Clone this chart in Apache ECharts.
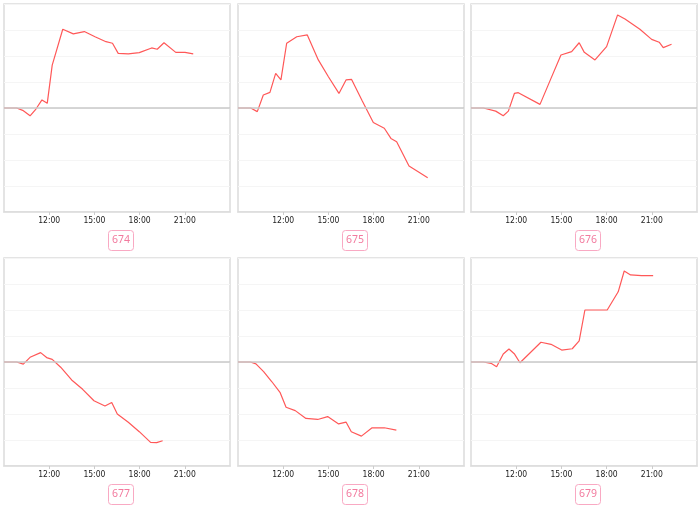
<!DOCTYPE html>
<html>
<head>
<meta charset="utf-8">
<script src="https://cdn.jsdelivr.net/npm/echarts@6/dist/echarts.min.js"></script>
<style>
html,body{margin:0;padding:0;background:#fff;}
#chart{width:700px;height:509px;}
</style>
</head>
<body>
<div id="chart"></div>
<script>
// Panel names
const names = ['674', '675', '676', '677', '678', '679'];

// Times (hours of day) and values for each panel
const t674 = [9, 9.84, 10.24, 10.73, 11.12, 11.52, 11.87, 12.2, 12.9, 13.6, 14.33, 15.04, 15.77, 16.2, 16.58, 17.25, 17.98, 18.8, 19.17, 19.62, 20.4, 21.01, 21.56];
const v674 = [0, 0, -0.09, -0.3, -0.04, 0.31, 0.18, 1.65, 3.03, 2.85, 2.94, 2.74, 2.55, 2.49, 2.1, 2.08, 2.13, 2.31, 2.26, 2.51, 2.14, 2.14, 2.08];

const t675 = [9, 9.84, 10.28, 10.68, 11.12, 11.5, 11.85, 12.23, 12.9, 13.6, 14.33, 15.0, 15.7, 16.17, 16.54, 17.25, 17.98, 18.71, 19.15, 19.53, 20.35, 20.96, 21.59];
const v675 = [0, 0, -0.14, 0.5, 0.6, 1.33, 1.08, 2.49, 2.74, 2.81, 1.85, 1.2, 0.56, 1.08, 1.1, 0.27, -0.56, -0.78, -1.17, -1.3, -2.23, -2.45, -2.68];

const t676 = [9, 9.82, 10.64, 11.14, 11.48, 11.88, 12.14, 13.58, 14.31, 14.97, 15.68, 16.18, 16.52, 17.23, 18.0, 18.73, 19.22, 20.21, 20.99, 21.49, 21.76, 22.31];
const v676 = [0, 0, -0.12, -0.3, -0.12, 0.56, 0.59, 0.14, 1.14, 2.04, 2.17, 2.51, 2.14, 1.85, 2.36, 3.58, 3.42, 3.03, 2.64, 2.53, 2.32, 2.45];

const t677 = [9, 9.84, 10.28, 10.73, 11.43, 11.83, 12.2, 12.76, 13.49, 14.22, 14.97, 15.7, 16.15, 16.52, 17.25, 17.98, 18.73, 19.13, 19.53];
const v677 = [0, 0, -0.08, 0.18, 0.36, 0.17, 0.1, -0.2, -0.69, -1.05, -1.49, -1.69, -1.56, -2.0, -2.32, -2.68, -3.09, -3.1, -3.03];

const t678 = [9, 9.82, 10.19, 10.7, 11.25, 11.8, 12.19, 12.8, 13.51, 14.29, 14.95, 15.68, 16.17, 16.52, 17.19, 17.9, 18.71, 19.51];
const v678 = [0, 0, -0.07, -0.37, -0.76, -1.18, -1.74, -1.87, -2.17, -2.21, -2.1, -2.38, -2.31, -2.68, -2.85, -2.53, -2.53, -2.62];

const t679 = [9, 9.82, 10.33, 10.7, 11.14, 11.52, 11.87, 12.25, 13.64, 14.31, 15.02, 15.72, 16.18, 16.56, 17.29, 18.04, 18.77, 19.17, 19.59, 20.32, 21.09];
const v679 = [0, 0, -0.05, -0.18, 0.31, 0.5, 0.32, -0.03, 0.76, 0.68, 0.46, 0.51, 0.81, 2.0, 2.0, 2.0, 2.7, 3.5, 3.35, 3.32, 3.32];

const times = [t674, t675, t676, t677, t678, t679];
const values = [v674, v675, v676, v677, v678, v679];

// X-axis range (hours) and Y range
const xMin = 9, xMax = 24, xStep = 3;
const yMin = -4, yMax = 4, yStep = 1;

const lefts = [4, 238, 471];
const tops = [4, 258];
const W = 226, H = 208;

const grids = [], xAxes = [], yAxes = [], series = [], titles = [];
for (let i = 0; i < 6; i++) {
  const col = i % 3, row = Math.floor(i / 3);
  grids.push({
    left: lefts[col], top: tops[row], width: W, height: H,
    show: true, borderColor: '#dcdcdc', borderWidth: 1.5, backgroundColor: 'transparent'
  });
  xAxes.push({
    type: 'value', gridIndex: i, min: xMin, max: xMax, interval: xStep,
    axisLine: { show: true, onZero: false, lineStyle: { color: '#dcdcdc', width: 1.5 } },
    axisTick: { show: true, length: 3, lineStyle: { color: '#ccc' } },
    splitLine: { show: false },
    axisLabel: {
      showMinLabel: false, showMaxLabel: false, margin: 4,
      fontSize: 8.5, color: '#222', fontFamily: '"Liberation Sans Narrow", "DejaVu Sans Condensed", sans-serif',
      formatter: v => v + ':00'
    }
  });
  yAxes.push({
    type: 'value', gridIndex: i, min: yMin, max: yMax, interval: yStep,
    axisLine: { show: false }, axisTick: { show: false }, axisLabel: { show: false },
    splitLine: { show: true, lineStyle: { color: '#f5f5f5', width: 1 } }
  });
  series.push({
    type: 'line', xAxisIndex: i, yAxisIndex: i,
    data: times[i].map((t, k) => [t, values[i][k]]),
    showSymbol: false, symbol: 'none',
    lineStyle: { color: '#ff5858', width: 1.2 },
    itemStyle: { color: '#ff5858' },
    silent: true,
    markLine: {
      silent: true, symbol: 'none', label: { show: false },
      lineStyle: { color: '#c8c8c8', width: 1.5, type: 'solid' },
      data: [{ yAxis: 0 }]
    },
    z: 3
  });
  titles.push({
    text: names[i],
    left: lefts[col] + W / 2, top: tops[row] + 226,
    textAlign: 'center',
    padding: [5, 4],
    borderColor: '#f9a9c3', borderWidth: 1, borderRadius: 3,
    textStyle: { color: '#f27a9e', fontSize: 10.5, fontWeight: 'normal', fontFamily: 'Noto Sans' }
  });
}

const chart = echarts.init(document.getElementById('chart'), null, { renderer: 'canvas' });
chart.setOption({
  animation: false,
  backgroundColor: '#fff',
  title: titles,
  grid: grids,
  xAxis: xAxes,
  yAxis: yAxes,
  series: series
});
</script>
</body>
</html>
